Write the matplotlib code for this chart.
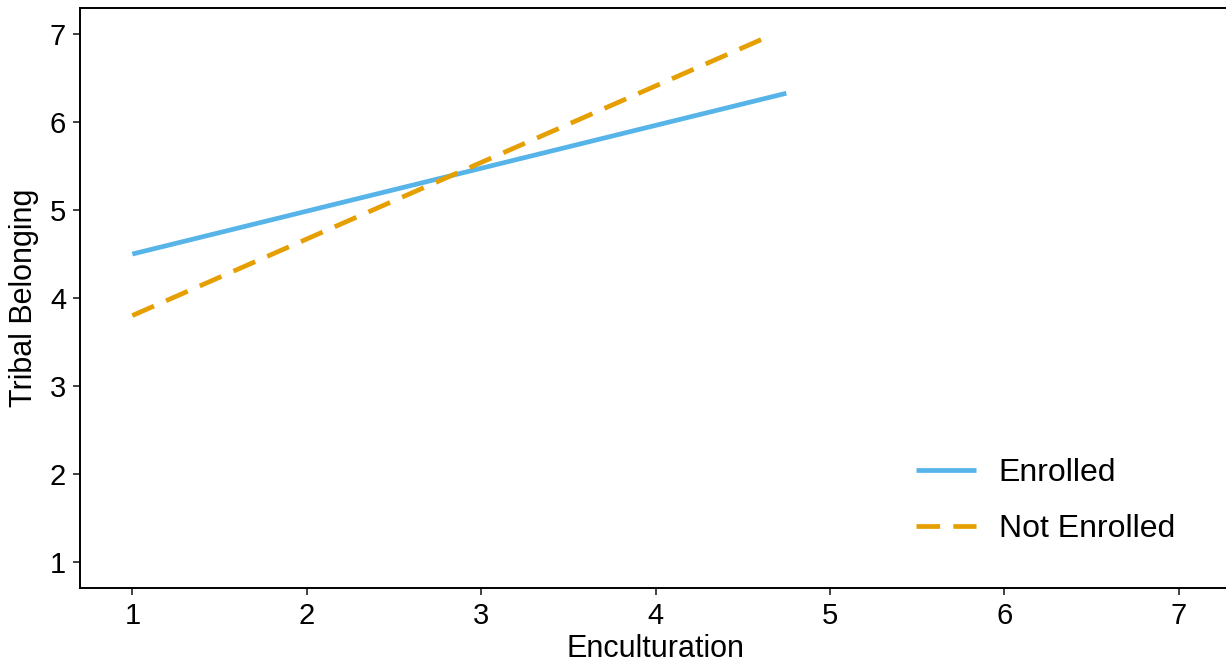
import matplotlib
matplotlib.use("Agg")
import matplotlib.pyplot as plt
import numpy as np

plt.rcParams['font.family'] = ['Liberation Sans', 'DejaVu Sans']

groups = ["Enrolled", "Not Enrolled"]
x_enrolled = [1.0, 4.75]
y_enrolled = [4.50, 6.33]
x_not = [1.0, 4.64]
y_not = [3.80, 6.97]
xticks = [1, 2, 3, 4, 5, 6, 7]
yticks = [1, 2, 3, 4, 5, 6, 7]

W, H = 1226, 668
fig = plt.figure(figsize=(W/100, H/100), dpi=100)
left, right, bottom, top = 80, 1231, 588, 8
ax = fig.add_axes([left/W, 1 - bottom/H, (right-left)/W, (bottom-top)/H])

ax.plot(x_enrolled, y_enrolled, color="#56B4E9", lw=3.4, solid_capstyle='butt', label=groups[0])
ax.plot(x_not, y_not, color="#E69F00", lw=3.4, dashes=(5, 2.8), dash_capstyle='butt', label=groups[1])

ax.set_xlim(0.7, 7.3)
ax.set_ylim(0.7, 7.3)
ax.set_xticks(xticks)
ax.set_yticks(yticks)
ax.tick_params(labelsize=21, length=5, width=1.3, color="#333333", labelcolor="black", pad=5)
for s in ax.spines.values():
    s.set_linewidth(1.4)
    s.set_color("black")
ax.set_xlabel("Enculturation", fontsize=22, labelpad=3)
ax.set_ylabel("Tribal Belonging", fontsize=22, labelpad=8)

leg = ax.legend(loc="center right", bbox_to_anchor=(1175/W, 1 - 501/H), bbox_transform=fig.transFigure,
                frameon=False, fontsize=23, borderpad=0, borderaxespad=0,
                handlelength=1.9, handletextpad=0.7, labelspacing=0.8)

fig.savefig("out.png", dpi=100)
